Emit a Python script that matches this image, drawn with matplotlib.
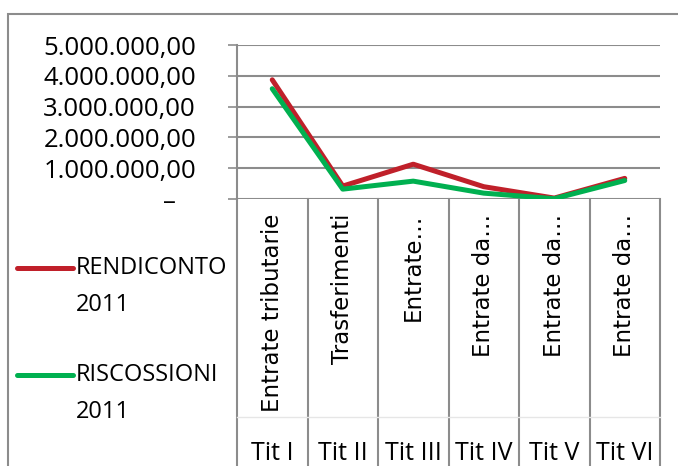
import matplotlib
matplotlib.use('Agg')
import matplotlib.pyplot as plt
from matplotlib.lines import Line2D
from matplotlib.patches import Rectangle

categories = ['Entrate tributarie', 'Trasferimenti', 'Entrate…', 'Entrate da…', 'Entrate da…', 'Entrate da…']
titoli = ['Tit I', 'Tit II', 'Tit III', 'Tit IV', 'Tit V', 'Tit VI']
rendiconto = [3870000, 420000, 1130000, 400000, 30000, 670000]
riscossioni = [3580000, 320000, 580000, 190000, 10000, 600000]
y_ticks = [0, 1000000, 2000000, 3000000, 4000000, 5000000]
y_labels = ['–   ', '1.000.000,00', '2.000.000,00', '3.000.000,00', '4.000.000,00', '5.000.000,00']

RED = '#C0202A'
GREEN = '#00B050'
GRID = '#8c8c8c'
FONT = 'Open Sans'
W, H = 678, 466

fig = plt.figure(figsize=(6.78, 4.66), dpi=100)
ax = fig.add_axes([237 / W, 1 - 199 / H, (660 - 237) / W, (199 - 45) / H])

x = list(range(len(categories)))
ax.plot(x, rendiconto, color=RED, lw=3.6, solid_capstyle='round', zorder=3)
ax.plot(x, riscossioni, color=GREEN, lw=3.6, solid_capstyle='round', zorder=4)

ax.set_xlim(-0.5, len(categories) - 0.5)
ax.set_ylim(0, 5000000)
ax.set_yticks(y_ticks)
ax.set_yticklabels(y_labels, fontsize=18.5, family=FONT)
ax.tick_params(axis='y', length=6.5, width=1.2, color=GRID, pad=23)
ax.set_xticks([])
ax.grid(axis='y', color=GRID, lw=1.5)
for s in ['top', 'right', 'bottom']:
    ax.spines[s].set_visible(False)
ax.spines['left'].set_color(GRID)
ax.spines['left'].set_linewidth(1.5)

# category area below the axis
tr = ax.get_xaxis_transform()
for i in range(len(categories) + 1):
    ax.plot([i - 0.5, i - 0.5], [0, -1.8], color=GRID, lw=1.5, transform=tr, clip_on=False)
ax.plot([-0.5, len(categories) - 0.5], [-1.416, -1.416], color='#e6e6e6', lw=1, transform=tr, clip_on=False)
for i, (c, t) in enumerate(zip(categories, titoli)):
    ax.text(i, -(214 - 199) / 154, c, rotation=90, rotation_mode='anchor', ha='right', va='center',
            fontsize=16.5, family='DejaVu Sans', transform=tr)
    ax.text(i, -(453 - 199) / 154, t, ha='center', va='center', fontsize=18, family=FONT, transform=tr)

# legend
for (yl, col, name) in [(268, RED, 'RENDICONTO'), (375, GREEN, 'RISCOSSIONI')]:
    fig.add_artist(Line2D([17 / W, 73 / W], [1 - yl / H, 1 - yl / H], color=col, lw=3.6, solid_capstyle='round'))
    fig.text(76 / W, 1 - yl / H, name, ha='left', va='center', fontsize=17, family=FONT)
    fig.text(76 / W, 1 - (yl + 37) / H, '2011', ha='left', va='center', fontsize=17, family=FONT)

# chart border
fig.add_artist(Rectangle((8 / W, -0.1), 1.2, 1.1 - 14 / H, fill=False, edgecolor=GRID, lw=1.5,
                         transform=fig.transFigure))

fig.savefig('out.png', dpi=100)
